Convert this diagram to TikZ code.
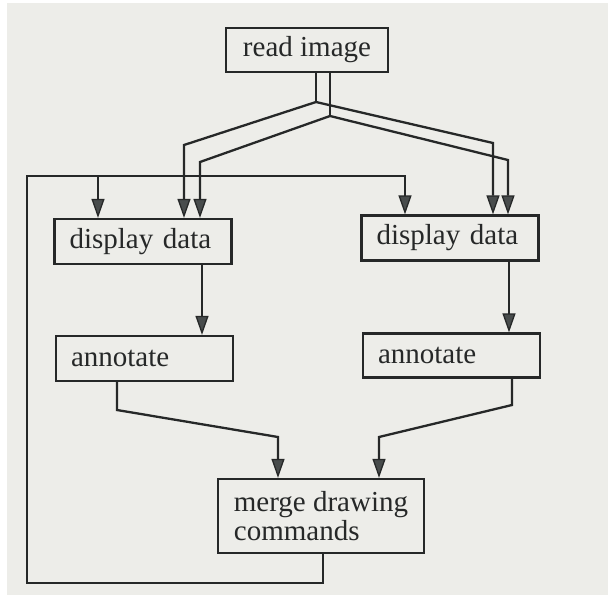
\documentclass[tikz,border=0pt]{standalone}
\usepackage{fontspec}
\setmainfont{Liberation Serif}
\usetikzlibrary{arrows.meta}
\definecolor{paper}{RGB}{237,237,233}
\definecolor{ink}{RGB}{38,40,40}
\definecolor{tipfill}{RGB}{72,76,76}
\begin{document}
\begin{tikzpicture}[x=1pt,y=-1pt,
  box/.style={draw=ink,line width=2.3pt,rectangle,inner xsep=15pt,inner ysep=0pt,
    align=left,font=\fontsize{29}{28.5}\selectfont,text=ink},
  flow/.style={draw=ink,line width=2.3pt,line join=miter},
  arr/.style={flow,-{Triangle[length=19pt,width=13pt,fill=tipfill,line width=1.3pt]}}]
  % page
  \fill[white] (0,0) rectangle (608,595);
  \fill[paper] (7,3) rectangle (608,595);
  \useasboundingbox (0,0) rectangle (608,595);

  % boxes
  \node[box,minimum width=162pt,minimum height=44pt,align=center,inner xsep=0pt] (read) at (307,50) {read image};
  \node[box,minimum width=177pt,minimum height=45pt,text width=147pt] (dispL) at (143,241.5) {display data};
  \node[box,minimum width=177pt,minimum height=45pt,text width=147pt] (dispR) at (450,238) {display data};
  \node[box,minimum width=177pt,minimum height=45pt,text width=147pt] (annL) at (144.5,358.5) {annotate};
  \node[box,minimum width=177pt,minimum height=44pt,text width=147pt] (annR) at (451.5,355.5) {annotate};
  \node[box,minimum width=206pt,minimum height=74pt,inner xsep=0pt] (merge) at (321,516) {merge drawing\\commands};

  % fan-out from read image
  \coordinate (ja) at (316,102);
  \coordinate (jb) at (330,116);
  \coordinate (la) at (184,145);
  \coordinate (lb) at (200,162);
  \coordinate (ra) at (493,143);
  \coordinate (rb) at (508,160);
  \draw[flow] (read.south -| ja) -- (ja);
  \draw[flow] (read.south -| jb) -- (jb);
  \draw[arr] (ja) -- (la) -- (dispL.north -| la);
  \draw[arr] (jb) -- (lb) -- (dispL.north -| lb);
  \draw[arr] (ja) -- (ra) -- (dispR.north -| ra);
  \draw[arr] (jb) -- (rb) -- (dispR.north -| rb);

  % display -> annotate
  \coordinate (dl) at (202,0);
  \coordinate (dr) at (509,0);
  \draw[arr] (dispL.south -| dl) -- (annL.north -| dl);
  \draw[arr] (dispR.south -| dr) -- (annR.north -| dr);

  % annotate -> merge
  \coordinate (al) at (117,410);
  \coordinate (ml) at (278,437);
  \coordinate (ar) at (512,405);
  \coordinate (mr) at (379,437);
  \draw[arr] (annL.south -| al) -- (al) -- (ml) -- (merge.north -| ml);
  \draw[arr] (annR.south -| ar) -- (ar) -- (mr) -- (merge.north -| mr);

  % feedback loop from merge back to both displays
  \coordinate (fb) at (323,583);
  \coordinate (fl) at (27,583);
  \coordinate (ft) at (27,176);
  \coordinate (fr) at (405,176);
  \coordinate (fm) at (98,176);
  \draw[arr] (merge.south -| fb) -- (fb) -- (fl) -- (ft) -- (fr) -- (dispR.north -| fr);
  \draw[arr] (fm) -- (dispL.north -| fm);
\end{tikzpicture}
\end{document}
